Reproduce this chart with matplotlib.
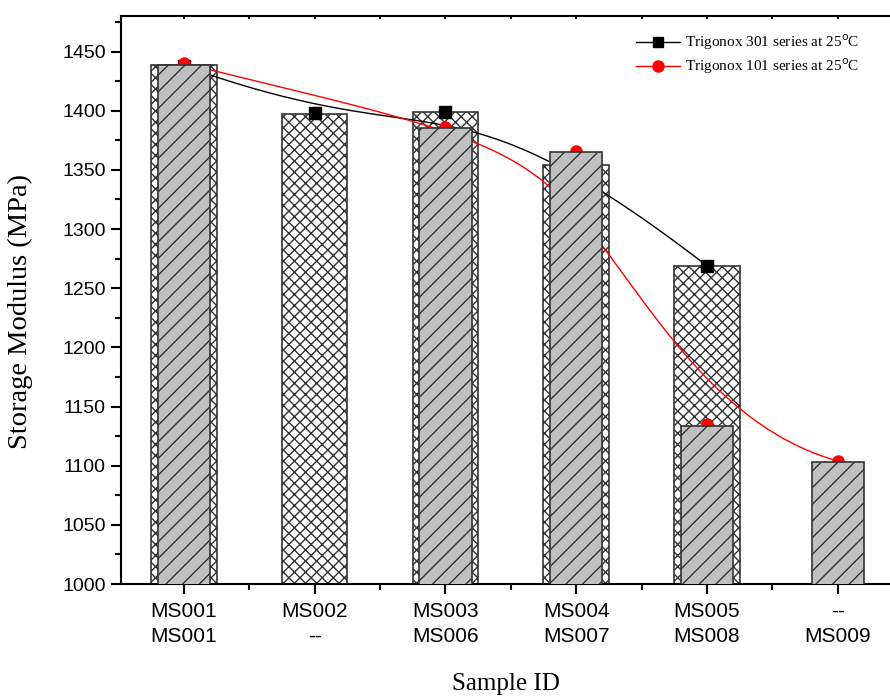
import numpy as np
import matplotlib
matplotlib.use("Agg")
import matplotlib.pyplot as plt
from matplotlib.ticker import MultipleLocator

tick_top = ["MS001", "MS002", "MS003", "MS004", "MS005", "--"]
tick_bottom = ["MS001", "--", "MS006", "MS007", "MS008", "MS009"]

# bars (MPa)
t301_bars = [1439, 1397, 1399, 1354, 1269]
t101_bars = [1439, np.nan, 1385, 1365, 1134, 1103]

# line markers
t301_x = [1, 2, 3, 4, 5]
t301_pts = [1438, 1398, 1399, 1354, 1269]
t101_x = [1, 3, 4, 5, 6]
t101_pts = [1440, 1386, 1366, 1135, 1104]


def bspline(px, py, n=400):
    # clamped cubic B-spline using the points as control points
    P = np.column_stack([px, py]).astype(float)
    k = 3
    m = len(P)
    knots = np.concatenate([np.zeros(k), np.arange(m - k + 1), np.full(k, m - k)]).astype(float)
    t = np.linspace(0, m - k, n)
    t[-1] -= 1e-9

    def basis(i, p, t):
        if p == 0:
            return ((knots[i] <= t) & (t < knots[i + 1])).astype(float)
        out = np.zeros_like(t)
        d1 = knots[i + p] - knots[i]
        d2 = knots[i + p + 1] - knots[i + 1]
        if d1 > 0:
            out += (t - knots[i]) / d1 * basis(i, p - 1, t)
        if d2 > 0:
            out += (knots[i + p + 1] - t) / d2 * basis(i + 1, p - 1, t)
        return out

    B = np.column_stack([basis(i, k, t) for i in range(m)])
    C = B @ P
    return C[:, 0], C[:, 1]


plt.rcParams["hatch.linewidth"] = 1.0

fig = plt.figure(figsize=(8.9, 6.97), dpi=100)
ax = fig.add_axes([0.136, 0.162, 0.864, 0.815])

x301 = np.arange(1, len(t301_bars) + 1)
x101 = np.arange(1, len(t101_bars) + 1)

ax.bar(x301, t301_bars, width=0.5, color="white", edgecolor="#333333",
       hatch="xxx", linewidth=1.2, zorder=2)

xs, ys = bspline(t301_x, t301_pts)
ax.plot(xs, ys, color="black", lw=1, zorder=3)
ax.plot(t301_x, t301_pts, "s", color="black", ms=8, zorder=3)
xs, ys = bspline(t101_x, t101_pts)
ax.plot(xs, ys, color="red", lw=1, zorder=3)
ax.plot(t101_x, t101_pts, "o", color="red", ms=8, zorder=3)

ax.bar(x101, t101_bars, width=0.4, color="#c0c0c0", edgecolor="#333333",
       hatch="//", linewidth=1.2, zorder=4)

# legend handles
ax.plot([], [], "-s", color="black", ms=7, lw=1, label="Trigonox 301 series at 25$^{\\mathrm{o}}$C")
ax.plot([], [], "-o", color="red", ms=8, lw=1, label="Trigonox 101 series at 25$^{\\mathrm{o}}$C")
ax.legend(loc="upper right", bbox_to_anchor=(0.978, 0.995), frameon=False,
          prop={"family": "Liberation Serif", "size": 11},
          handlelength=2.9, labelspacing=0.3, handletextpad=0.3)

ax.set_xlim(0.52, 6.4)
ax.set_ylim(1000, 1480)
ax.yaxis.set_major_locator(MultipleLocator(50))
ax.yaxis.set_minor_locator(MultipleLocator(25))
ax.set_xticks(x101)
ax.set_xticks(np.arange(1.5, 6.5, 1), minor=True)
ax.set_xticklabels([f"{a}\n{b}" for a, b in zip(tick_top, tick_bottom)],
                   family="Liberation Sans", fontsize=15, linespacing=1.4)
for lab in ax.get_yticklabels():
    lab.set_family("Liberation Sans")
    lab.set_fontsize(14)

ax.tick_params(axis="both", which="major", direction="out", length=7, width=1.5, pad=4)
ax.tick_params(axis="both", which="minor", direction="out", length=4, width=1.5)
ax.tick_params(axis="x", which="major", pad=6)
ax.tick_params(axis="x", which="both", top=True)
for s in ["left", "bottom", "top"]:
    ax.spines[s].set_linewidth(1.5)
ax.spines["right"].set_visible(False)
for t in ax.xaxis.get_major_ticks() + ax.xaxis.get_minor_ticks():
    t.tick2line.set_markersize(2)
    t.tick2line.set_marker(3)

ax.set_ylabel("Storage Modulus (MPa)", family="Liberation Serif", fontsize=20.5)
ax.yaxis.set_label_coords(-0.114, 0.479)
ax.set_xlabel("Sample ID", family="Liberation Serif", fontsize=18)
ax.xaxis.set_label_coords(0.5, -0.157)

fig.savefig("out.png", dpi=100)
